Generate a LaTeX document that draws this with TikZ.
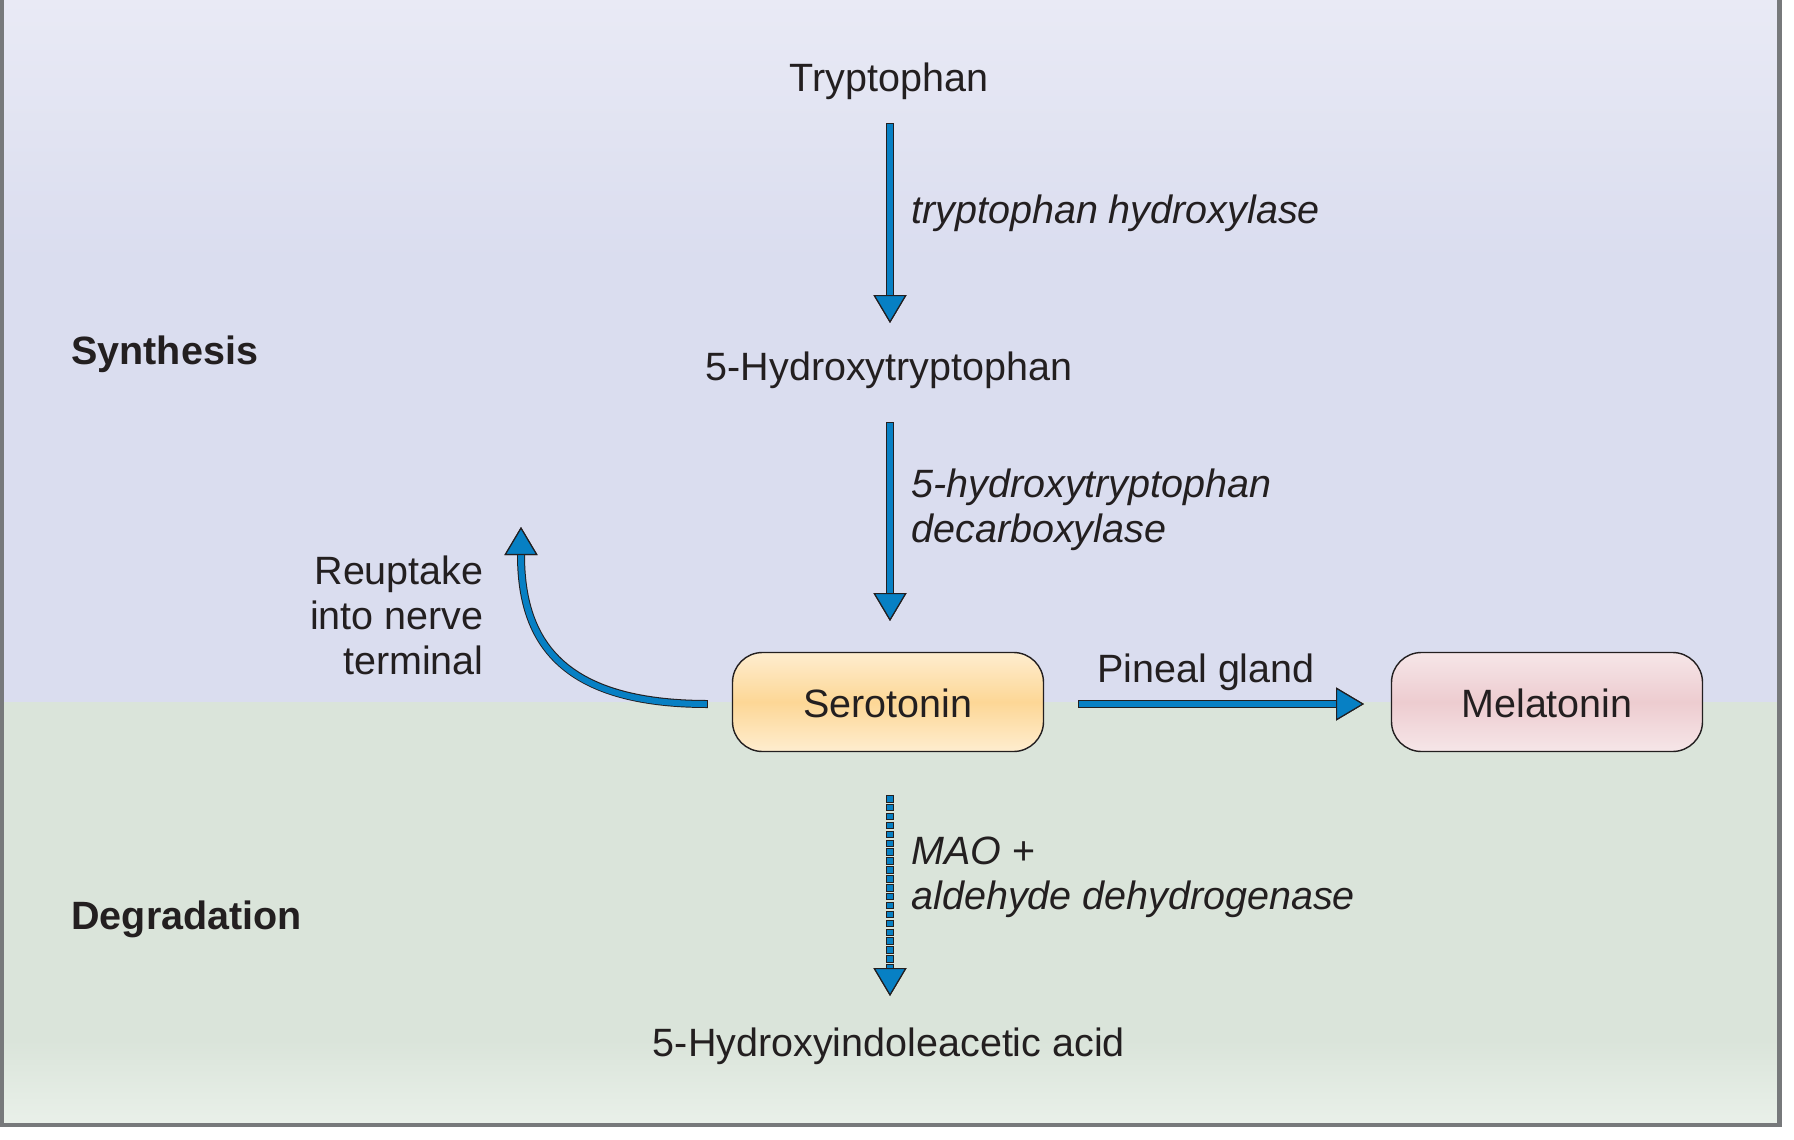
\documentclass[tikz,border=0pt]{standalone}
\usepackage{fontspec}
\setmainfont{Liberation Sans}
\usetikzlibrary{arrows.meta,calc}
\definecolor{ink}{HTML}{231F20}
\definecolor{abl}{HTML}{0780C4}
\definecolor{frame}{HTML}{77797B}
\definecolor{lavtop}{HTML}{E9EAF5}
\definecolor{lav}{HTML}{DADDEF}
\definecolor{grn}{HTML}{DAE4DA}
\definecolor{grnbot}{HTML}{E9F0E9}
\definecolor{sermid}{HTML}{FDD796}
\definecolor{serend}{HTML}{FEEDCF}
\definecolor{melmid}{HTML}{EDCCD0}
\definecolor{melend}{HTML}{F6E6E8}
\newcommand{\fsz}{\fontsize{19.75pt}{22.5pt}\selectfont}
\tikzset{
  blutip/.style={-{Triangle[width=16.5pt,length=14pt,line width=0.6pt,fill=abl,color=ink]}},
  lab/.style={inner sep=0pt, text height=14.2pt, text depth=4.1pt},
  mlab/.style={inner sep=0pt},
  pbox/.style={draw=ink, line width=0.7pt, rounded corners=15pt, minimum width=155.5pt,
    minimum height=49.5pt, inner sep=0pt, text height=19.2pt, text depth=4.1pt},
}
\newcommand{\bluearrow}[4]{%
  \draw[line width=4pt, ink, blutip, shorten <=#3, shorten >=#4] #1 -- #2;
  \draw[line width=3pt, abl, blutip, shorten <=#3+0.5pt, shorten >=#4] #1 -- #2;}
\begin{document}
\begin{tikzpicture}[x=0.5pt,y=-0.5pt,font=\fsz,text=ink]
\useasboundingbox (0,0) rectangle (1794,1140);
% background
\fill[white] (0,0) rectangle (1794,1140);
\shade[top color=lavtop, bottom color=lav] (4,0) rectangle (1777,260);
\fill[lav] (4,259) rectangle (1777,702);
\fill[grn] (4,702) rectangle (1777,1041);
\shade[top color=grn, bottom color=grnbot] (4,1040) rectangle (1777,1123);
\fill[frame] (0,0) rectangle (4,1127);
\fill[frame] (1777,0) rectangle (1782,1127);
\fill[frame] (0,1123) rectangle (1782,1127);
% section labels
\node[lab, anchor=west, font=\fsz\bfseries] (syn) at (71,354) {Synthesis};
\node[lab, anchor=west, font=\fsz\bfseries] (deg) at (71,919) {Degradation};
% compounds
\node[lab] (trp) at (889,81) {Tryptophan};
\node[lab] (htp) at (889,370) {5-Hydroxytryptophan};
\node[pbox, top color=serend, bottom color=serend, middle color=sermid] (ser) at (888,702) {Serotonin};
\node[pbox, top color=melend, bottom color=melend, middle color=melmid] (mel) at (1547,702) {Melatonin};
\node[lab] (hiaa) at (889,1046) {5-Hydroxyindoleacetic acid};
% enzyme labels
\node[lab, anchor=west, font=\fsz\itshape] (e1) at (911,213) {tryptophan hydroxylase};
\node[mlab, anchor=west, align=left, font=\fsz\itshape] (e2) at (911,510) {5-hydroxytryptophan\\decarboxylase};
\node[mlab, anchor=west, align=left] (e3) at (911,877) {\textit{MAO} +\\\textit{aldehyde dehydrogenase}};
\node[lab] (pin) at (1206,672) {Pineal gland};
\node[mlab, anchor=east, align=right] (reu) at (484,615) {Reuptake\\into nerve\\terminal};
% arrows
\bluearrow{([xshift=0.5pt]trp.center)}{([xshift=0.5pt]htp.center)}{21pt}{23.5pt}
\bluearrow{([xshift=0.5pt]htp.center)}{([xshift=1pt]ser.center)}{26pt}{40.5pt}
\bluearrow{([yshift=-1pt]ser.center)}{([yshift=-1pt]mel.center)}{95pt}{91.5pt}
\coordinate (reup) at (521,527);
\draw[line width=4pt, ink, blutip] ([xshift=-12pt,yshift=-1pt]ser.west) .. controls (560,704) and (521,640) .. (reup);
\draw[line width=3pt, abl, blutip, shorten <=0.5pt] ([xshift=-12pt,yshift=-1pt]ser.west) .. controls (560,704) and (521,640) .. (reup);
\draw[line width=3.75pt, ink, dash pattern=on 3.75pt off 0.7pt, blutip, shorten <=46.5pt, shorten >=25pt] ([xshift=1pt]ser.center) -- ([xshift=0.5pt]hiaa.center);
\draw[line width=2.75pt, abl, dash pattern=on 0pt off 0.5pt on 2.75pt off 1.2pt, blutip, shorten <=46.5pt, shorten >=25pt] ([xshift=1pt]ser.center) -- ([xshift=0.5pt]hiaa.center);
\end{tikzpicture}
\end{document}
